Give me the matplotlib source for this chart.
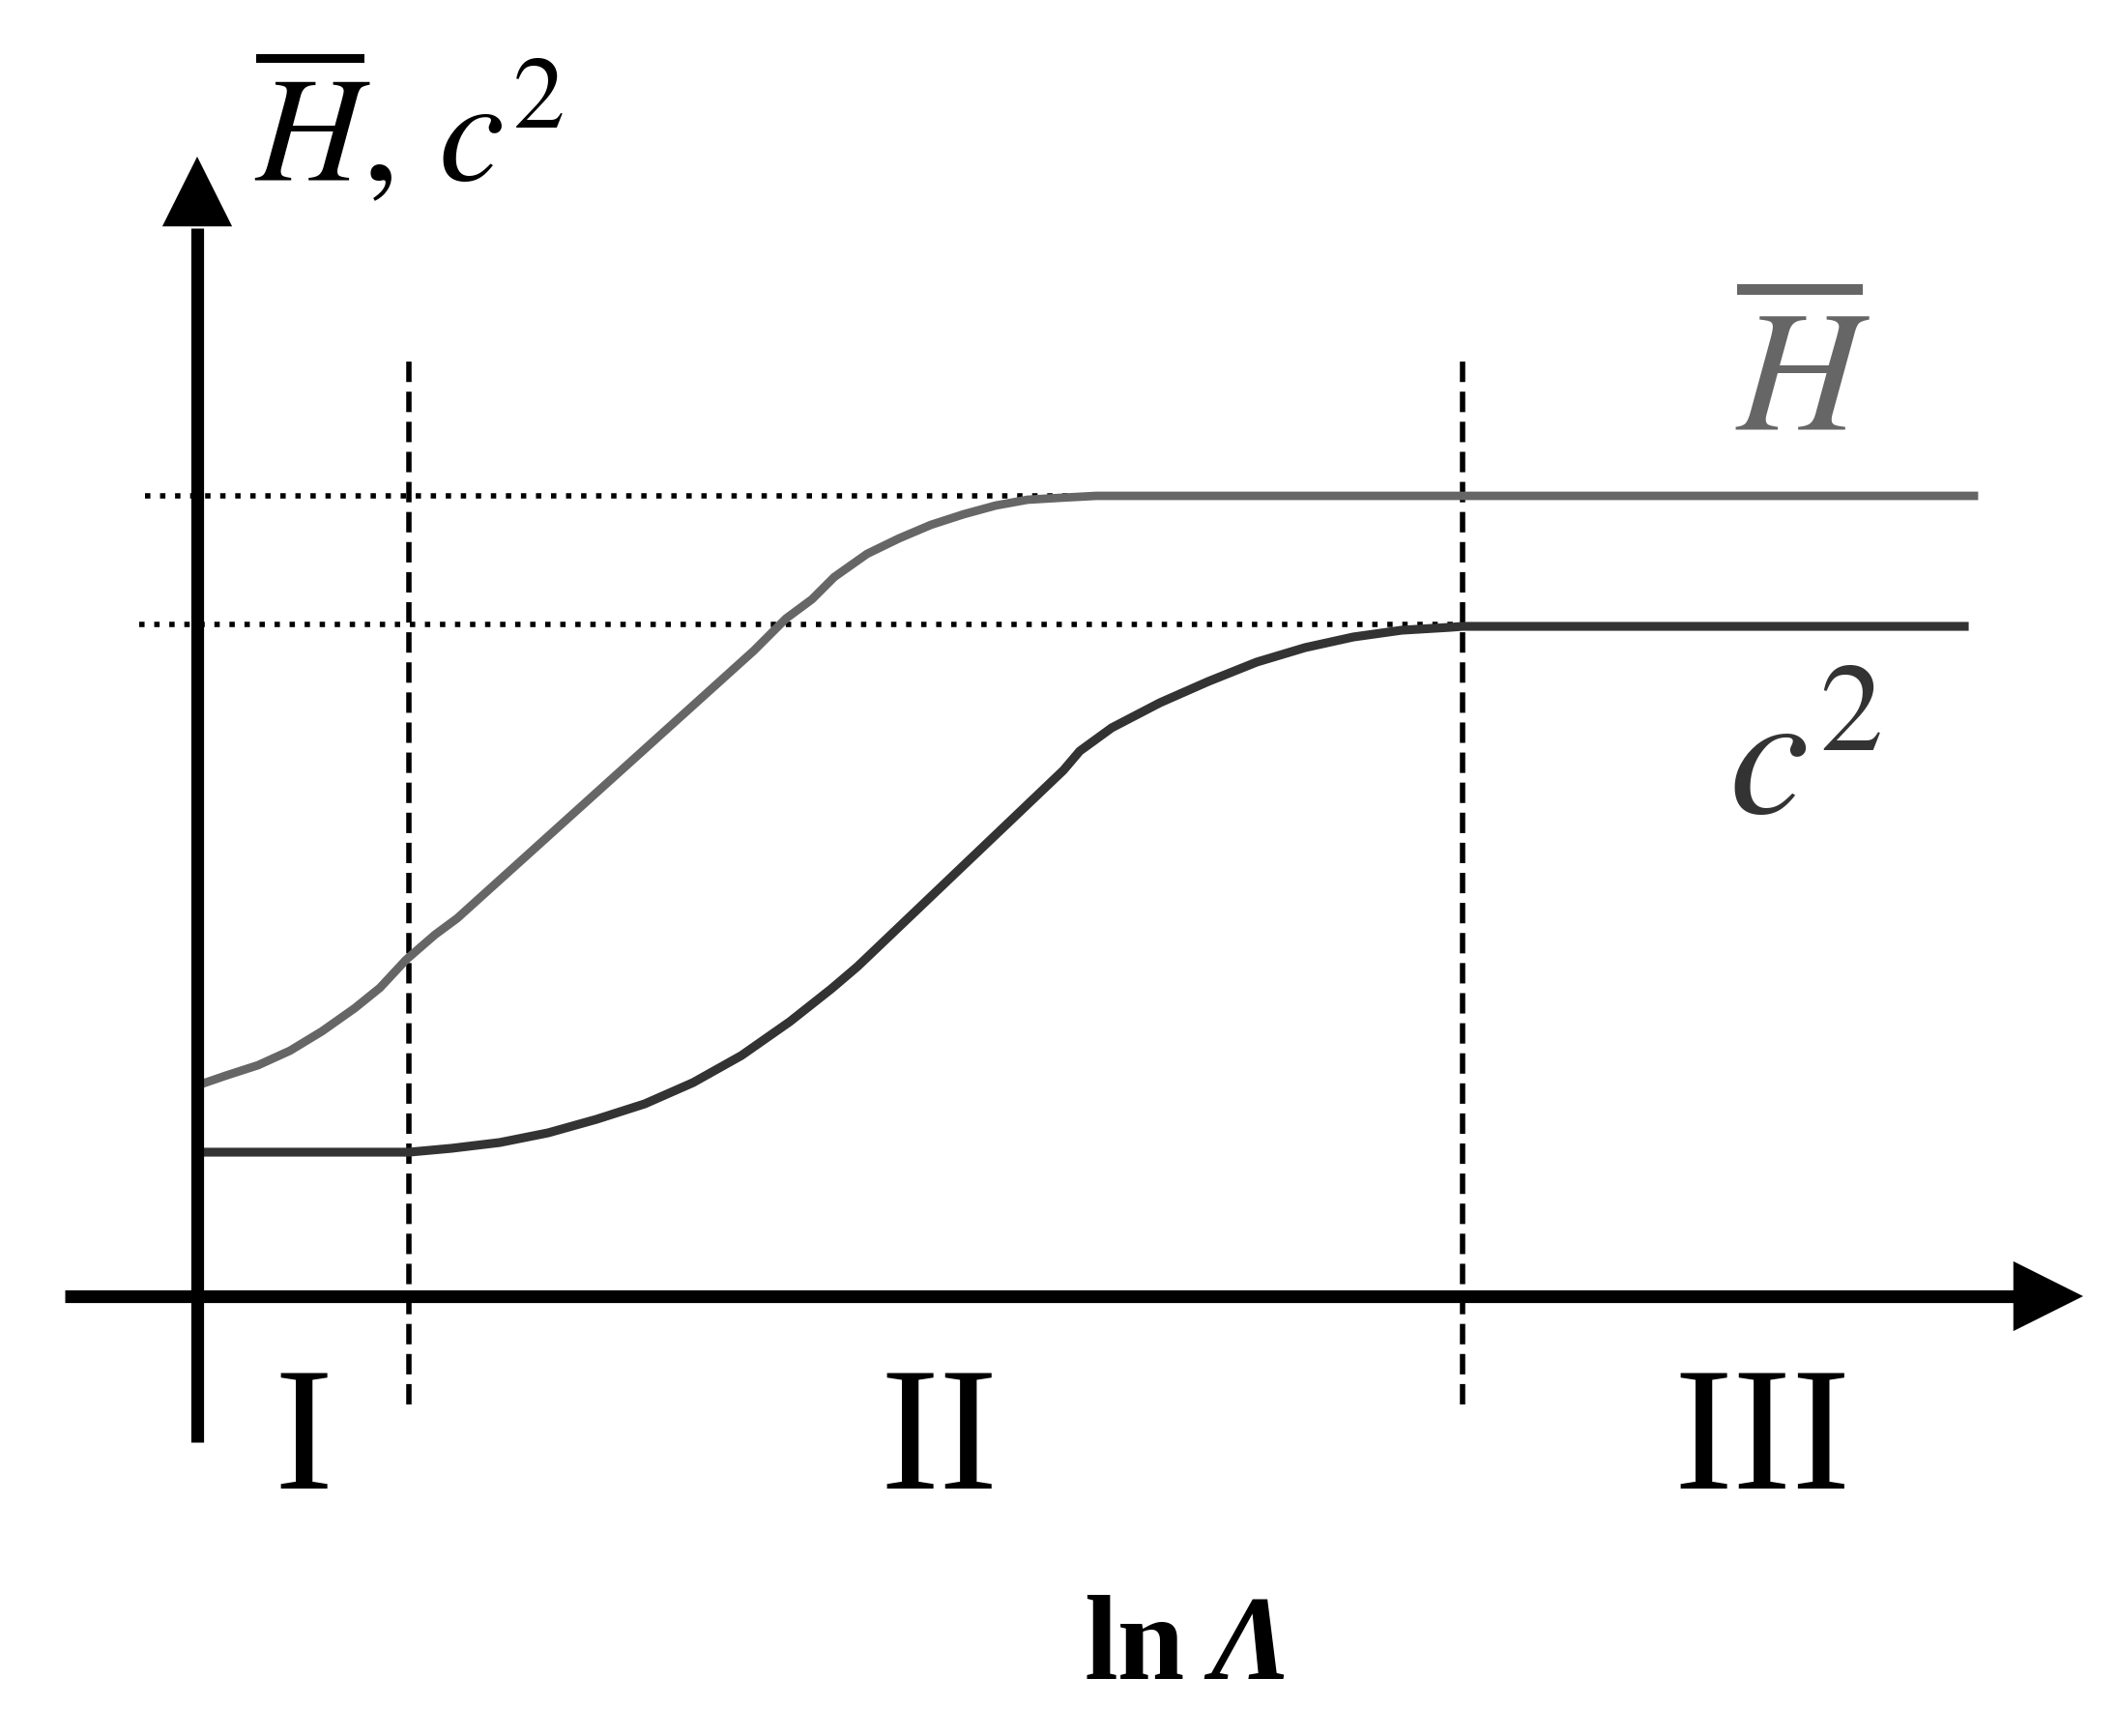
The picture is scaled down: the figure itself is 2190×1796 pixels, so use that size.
import numpy as np
import matplotlib
matplotlib.use("Agg")
import matplotlib.pyplot as plt

plt.rcParams['mathtext.fontset'] = 'stix'

# curve values (x = ln Lambda, arbitrary units)
h_x = [0.00, 0.29, 0.63, 0.96, 1.29, 1.63, 1.89, 2.16, 2.46, 2.69,
       5.76, 6.09, 6.36, 6.59, 6.93, 7.26, 7.59, 7.93, 8.26, 8.59, 8.93,
       9.30, 18.38]
h_y = [2.18, 2.28, 2.39, 2.54, 2.74, 2.98, 3.19, 3.48, 3.74, 3.91,
       6.68, 7.01, 7.21, 7.44, 7.68, 7.84, 7.98, 8.09, 8.18, 8.24, 8.26,
       8.28, 8.28]

c2_x = [0.00, 2.19, 2.63, 3.13, 3.63, 4.13, 4.63, 5.13, 5.63, 6.13, 6.56,
        6.83, 8.96, 9.13, 9.46, 9.96, 10.46, 10.96, 11.46, 11.96, 12.46,
        12.96, 13.09, 18.28]
c2_y = [1.49, 1.49, 1.53, 1.59, 1.69, 1.83, 1.99, 2.21, 2.49, 2.84, 3.18,
        3.41, 5.44, 5.64, 5.88, 6.14, 6.36, 6.56, 6.71, 6.82, 6.89,
        6.92, 6.93, 6.93]

# region borders and plateau levels
borders = [2.19, 13.09]
h_level = 8.28
c2_level = 6.95
region_labels = ["I", "II", "III"]
region_label_x = [1.10, 7.67, 16.19]

h_color = "#666666"
c2_color = "#333333"


def axis_arrow(ax, start, base, tip):
    # shaft + filled head
    ax.plot([start[0], base[0]], [start[1], base[1]], color="black", lw=9.5,
            solid_capstyle="butt")
    ax.annotate("", xy=tip, xytext=base,
                arrowprops=dict(arrowstyle="-|>,head_length=52,head_width=26",
                                mutation_scale=1, lw=0, color="black",
                                shrinkA=0, shrinkB=0))


def main():
    fig = plt.figure(figsize=(21.9, 17.96), dpi=100)
    ax = fig.add_axes([0, 0, 1, 1])
    ax.set_xlim(-2.04, 19.86)
    ax.set_ylim(-4.55, 13.41)
    ax.axis("off")

    # dotted plateau guides
    ax.plot([-0.54, 9.16], [h_level, h_level], color="black", lw=4.0,
            ls=(0, (1, 1.8)), dash_capstyle="butt")
    ax.plot([-0.60, borders[1]], [c2_level, c2_level], color="black", lw=4.0,
            ls=(0, (1, 1.8)), dash_capstyle="butt")

    # dashed region borders
    for b in borders:
        ax.plot([b, b], [-1.12, 9.74], color="black", lw=4.0,
                ls=(0, (3.8, 1.8)), dash_capstyle="butt")

    # curves
    ax.plot(h_x, h_y, color=h_color, lw=6.3, solid_joinstyle="round")
    ax.plot(c2_x, c2_y, color=c2_color, lw=6.6, solid_joinstyle="round")

    # axes with arrows
    axis_arrow(ax, (-1.37, 0), (18.80, 0), (19.51, 0))
    axis_arrow(ax, (0, -1.51), (0, 11.05), (0, 11.79))

    # labels
    ax.text(0.59, 11.54, r"$\overline{H},\,c^2$", fontsize=110,
            ha="left", va="baseline", color="black")
    ax.text(16.61, 8.97, r"$\overline{H}$", fontsize=128,
            ha="center", va="baseline", color=h_color)
    ax.text(15.84, 4.99, r"$c^2$", fontsize=134,
            ha="left", va="baseline", color=c2_color)

    for lab, x in zip(region_labels, region_label_x):
        ax.text(x, -1.99, lab, fontsize=132, family="Liberation Serif",
                ha="center", va="baseline", color="black")

    ax.text(9.18, -3.96, "ln", fontsize=90, family="Liberation Serif",
            fontweight="bold", ha="left", va="baseline")
    ax.text(10.48, -3.96, "Λ", fontsize=90, family="Liberation Serif",
            fontweight="bold", fontstyle="italic", ha="left", va="baseline")

    fig.savefig("out.png", dpi=100, facecolor="white")
    plt.close(fig)


if __name__ == "__main__":
    main()
